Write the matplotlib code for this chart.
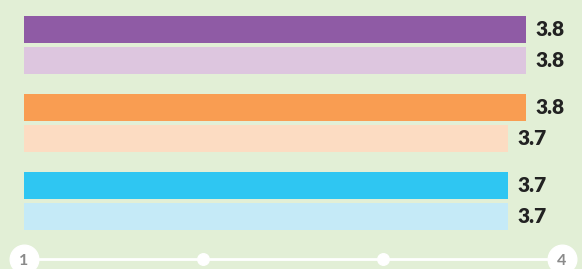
import matplotlib.pyplot as plt
import numpy as np

# values (three groups, dark + light bar each)
dark_values = [3.8, 3.8, 3.7]
light_values = [3.8, 3.7, 3.7]
dark_colors = ['#8f5ba5', '#f99d52', '#2fc6f2']
light_colors = ['#ddc6df', '#fcdcc2', '#c5eaf7']
axis_min, axis_max = 1, 4
axis_ticks = [1, 2, 3, 4]

bg = '#e2efd6'
plt.rcParams['font.family'] = ['Lato', 'DejaVu Sans']

fig = plt.figure(figsize=(5.82, 2.69), dpi=100, facecolor=bg)
ax = fig.add_axes([0, 0, 1, 1])
ax.set_facecolor(bg)

g = np.arange(len(dark_values))
off = 0.1975
h = 0.345
ax.barh(g - off, np.array(dark_values) - axis_min, left=axis_min, height=h, color=dark_colors)
ax.barh(g + off, np.array(light_values) - axis_min, left=axis_min, height=h, color=light_colors)

for yy, vals in [(g - off, dark_values), (g + off, light_values)]:
    for y, v in zip(yy, vals):
        ax.text(v + 0.05, y, f'{v:.1f}', va='center', ha='left', fontsize=15,
                fontweight='heavy', color='#222222')

# bottom axis: white line with dots, end values in circles
ya = 2.74
ax.plot([axis_min, axis_max], [ya, ya], color='white', lw=2, zorder=2)
ax.plot(axis_ticks[1:-1], [ya] * 2, 'o', color='white', ms=8.3, zorder=3)
ax.plot([axis_min, axis_max], [ya, ya], 'o', color='white', ms=20.6, zorder=3)
for t in [axis_min, axis_max]:
    ax.text(t, ya + 0.03, str(t), ha='center', va='center', fontsize=11.5,
            fontweight='bold', color='#8a8a8a', zorder=4)

ax.set_xlim(0.8662, 4.1115)
ax.set_ylim(2.868, -0.576)
ax.axis('off')

fig.savefig('out.png', dpi=100, facecolor=bg)
